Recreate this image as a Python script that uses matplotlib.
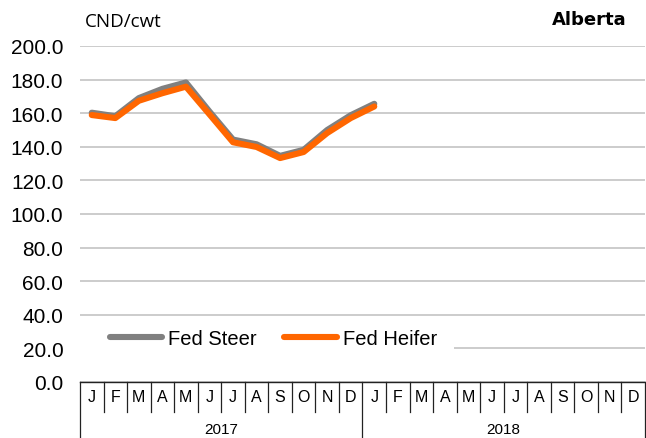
import matplotlib.pyplot as plt
from matplotlib.patches import Rectangle

months = ['J', 'F', 'M', 'A', 'M', 'J', 'J', 'A', 'S', 'O', 'N', 'D'] * 2
years = ['2017', '2018']
steer = [160.3, 158.2, 169.0, 174.5, 178.3, 161.0, 144.3, 141.5, 134.6, 138.2, 150.0, 158.8, 165.6]
heifer = [158.9, 157.1, 167.4, 171.9, 175.8, 159.3, 142.7, 139.9, 133.3, 136.9, 148.2, 157.1, 164.0]
yticks = [0, 20, 40, 60, 80, 100, 120, 140, 160, 180, 200]

plt.rcParams['font.family'] = ['Liberation Sans', 'DejaVu Sans']

fig = plt.figure(figsize=(6.46, 4.39), dpi=100)
W, H = 646, 439
ax = fig.add_axes([80 / W, 1 - 383 / H, (645 - 80) / W, (383 - 47) / H])

x = list(range(len(steer)))
ax.plot(x, steer, color='#808080', lw=4.4, solid_capstyle='round', label='Fed Steer', zorder=3)
ax.plot(x, heifer, color='#FF6600', lw=4.4, solid_capstyle='round', label='Fed Heifer', zorder=4)

ax.set_xlim(-0.5, 23.5)
ax.set_ylim(0, 200)
ax.set_yticks(yticks)
ax.set_yticklabels([f'{v:.1f}' for v in yticks], fontsize=15)
ax.tick_params(axis='y', length=0, pad=12)
ax.yaxis.grid(True, color='#c8c8c8', lw=1.3)
ax.set_axisbelow(True)
for s in ['left', 'right', 'top']:
    ax.spines[s].set_visible(False)
ax.spines['bottom'].set_color('#222222')
ax.spines['bottom'].set_linewidth(1.0)
ax.set_xticks([])

# category axis: month boxes and year groups
axh = 383 - 47
tr = ax.get_xaxis_transform()
for k in range(len(months) + 1):
    depth = 56 / axh if k % 12 == 0 else 30 / axh
    ax.plot([k - 0.5, k - 0.5], [0, -depth], transform=tr, color='#222222', lw=0.9, clip_on=False)
for k, m in enumerate(months):
    ax.text(k, -15 / axh, m, transform=tr, ha='center', va='center', fontsize=11.5)
for i, yr in enumerate(years):
    ax.text(i * 12 + 5.5, -47 / axh, yr, transform=tr, ha='center', va='center', fontsize=11)

# white legend area hiding part of the 20.0 gridline
ax.add_patch(Rectangle((-0.5, 14), 15.9, 12, facecolor='white', edgecolor='none', zorder=1.5))

leg = ax.legend(ncol=2, loc='center left', bbox_to_anchor=(0.053, 0.128), fontsize=14.5,
                frameon=False, handlelength=2.6, handletextpad=0.3, columnspacing=1.35,
                borderpad=0.0, borderaxespad=0.0)
leg.set_zorder(5)
for h in leg.get_lines():
    h.set_linewidth(4.4)

fig.text(85 / W, 1 - 22 / H, 'CND/cwt', fontsize=13.5, family='Open Sans', va='center', ha='left')
fig.text(627 / W, 1 - 20 / H, 'Alberta', fontsize=13, fontweight='bold', family='DejaVu Sans',
         va='center', ha='right')

fig.savefig('out.png', dpi=100)
